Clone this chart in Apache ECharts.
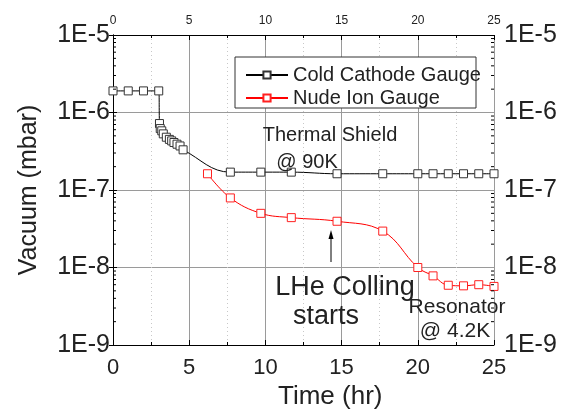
<!DOCTYPE html>
<html>
<head>
<meta charset="utf-8">
<script src="https://cdn.jsdelivr.net/npm/echarts@6/dist/echarts.min.js"></script>
<style>
  html, body { margin: 0; padding: 0; background: #fff; }
  #chart { width: 563px; height: 414px; }
</style>
</head>
<body>
<div id="chart"></div>
<script>
// Cold Cathode Gauge (time in hr, pressure in mbar)
const coldTime = [0, 1, 2, 3, 3.05, 3.1, 3.2, 3.3, 3.5, 3.7, 3.85, 4.0, 4.2, 4.4, 4.6,
                  7.7, 9.7, 11.7, 14.7, 17.7, 20, 21, 22, 23, 24, 25]
const coldVac = [1.9e-6, 1.9e-6, 1.9e-6, 1.9e-6, 7.2e-7, 6.2e-7, 5.8e-7, 5.3e-7, 4.8e-7, 4.5e-7,
                 4.3e-7, 4.1e-7, 3.9e-7, 3.7e-7, 3.3e-7,
                 1.7e-7, 1.7e-7, 1.7e-7, 1.62e-7, 1.62e-7, 1.62e-7, 1.62e-7, 1.62e-7, 1.62e-7, 1.62e-7, 1.62e-7]

// Nude Ion Gauge
const ionTime = [6.2, 7.7, 9.7, 11.7, 14.7, 17.7, 20, 21, 22, 23, 24, 25]
const ionVac = [1.62e-7, 7.9e-8, 5.0e-8, 4.4e-8, 3.95e-8, 2.95e-8, 1.0e-8, 7.8e-9, 5.9e-9, 5.8e-9, 6.0e-9, 5.7e-9]

const FONT = 'Liberation Sans, Arial, sans-serif'
const TXT = '#222'

// log minor ticks 2..9 for each decade
const minorVals = []
for (let e = -9; e < -5; e++) {
    for (let k = 2; k <= 9; k++) minorVals.push([0, k * Math.pow(10, e)])
}

const zip = (xs, ys) => xs.map((x, i) => [x, ys[i]])
const expLabel = v => '1E' + Math.round(Math.log10(v))

const chart = echarts.init(document.getElementById('chart'))

const xCommon = {
    type: 'value',
    min: 0,
    max: 25,
    interval: 5,
    axisLine: { lineStyle: { color: '#000', width: 1 } },
    axisTick: { inside: true, length: 5, lineStyle: { color: '#000' } },
    minorTick: { show: true, splitNumber: 2, length: 3, lineStyle: { color: '#000' } }
}

const yCommon = {
    type: 'log',
    logBase: 10,
    min: 1e-9,
    max: 1e-5,
    interval: 1,
    axisLine: { show: true, lineStyle: { color: '#000', width: 1 } },
    axisTick: { inside: false, length: 4, lineStyle: { color: '#000' } }
}

chart.setOption({
    animation: false,
    backgroundColor: '#fff',
    textStyle: { fontFamily: FONT },
    grid: { left: 113, right: 69, top: 35, bottom: 69 },
    xAxis: [
        Object.assign({}, xCommon, {
            position: 'bottom',
            axisLabel: { fontSize: 22, color: TXT, margin: 12, fontFamily: FONT },
            splitLine: { show: true, lineStyle: { color: '#9a9a9a', width: 1 } },
            minorSplitLine: { show: true, lineStyle: { color: '#c8c8c8', type: [1, 3], width: 1 } }
        }),
        Object.assign({}, xCommon, {
            position: 'top',
            axisLabel: { fontSize: 12, color: TXT, margin: 8, fontFamily: FONT },
            splitLine: { show: false }
        })
    ],
    yAxis: [
        Object.assign({}, yCommon, {
            position: 'left',
            axisLabel: { fontSize: 25, color: TXT, margin: 3, fontFamily: FONT, formatter: expLabel },
            splitLine: { show: true, lineStyle: { color: '#9a9a9a', width: 1 } }
        }),
        Object.assign({}, yCommon, {
            position: 'right',
            axisLabel: { fontSize: 25, color: TXT, margin: 10, fontFamily: FONT, formatter: expLabel },
            splitLine: { show: false }
        })
    ],
    legend: {
        orient: 'vertical',
        left: 240,
        top: 60,
        z: 10,
        itemWidth: 42,
        itemHeight: 9,
        itemGap: 3,
        data: ['Cold Cathode Gauge', 'Nude Ion Gauge'],
        textStyle: { fontSize: 20, color: TXT, fontFamily: FONT, padding: [0, 0, 0, 0] }
    },
    series: [
        {
            name: 'Cold Cathode Gauge',
            type: 'line',
            data: zip(coldTime, coldVac),
            smooth: 0.4,
            symbol: 'rect',
            symbolSize: 8,
            lineStyle: { color: '#000', width: 1 },
            itemStyle: { color: '#fff', borderColor: '#333', borderWidth: 1 },
            z: 3
        },
        {
            name: 'Nude Ion Gauge',
            type: 'line',
            data: zip(ionTime, ionVac),
            smooth: 0.4,
            symbol: 'rect',
            symbolSize: 8,
            lineStyle: { color: '#ff0000', width: 1 },
            itemStyle: { color: '#fff', borderColor: '#ff2020', borderWidth: 1 },
            z: 3
        },
        {
            // minor log ticks on left and right y axes
            type: 'custom',
            silent: true,
            clip: false,
            data: minorVals,
            encode: { x: 0, y: 1 },
            renderItem: (params, api) => {
                const l = api.coord([0, api.value(1)])
                const r = api.coord([25, api.value(1)])
                return {
                    type: 'group',
                    children: [
                        { type: 'line', shape: { x1: l[0], y1: l[1], x2: l[0] + 3, y2: l[1] }, style: { stroke: '#000', lineWidth: 1 } },
                        { type: 'line', shape: { x1: r[0], y1: r[1], x2: r[0] - 3, y2: r[1] }, style: { stroke: '#000', lineWidth: 1 } }
                    ]
                }
            },
            z: 4
        }
    ],
    graphic: [
        // legend frame
        { type: 'rect', shape: { x: 235, y: 57, width: 241, height: 51 },
          style: { fill: '#fff', stroke: '#333', lineWidth: 1 }, z: 5 },
        // axis titles
        { type: 'text', left: 278, top: 384,
          style: { text: 'Time (hr)', font: '26px ' + FONT, fill: TXT } },
        { type: 'text', x: 29, y: 190, rotation: Math.PI / 2, originX: 0, originY: 0,
          style: { text: 'Vacuum (mbar)', font: '25px ' + FONT, fill: TXT, align: 'center', verticalAlign: 'middle' } },
        // annotations
        { type: 'text', x: 330, y: 135, z: 6,
          style: { text: 'Thermal Shield', font: '20px ' + FONT, fill: TXT, align: 'center', verticalAlign: 'middle' } },
        { type: 'text', x: 307, y: 162, z: 6,
          style: { text: '@ 90K', font: '20px ' + FONT, fill: TXT, align: 'center', verticalAlign: 'middle' } },
        { type: 'text', x: 345, y: 288, z: 6,
          style: { text: 'LHe Colling', font: '27px ' + FONT, fill: TXT, align: 'center', verticalAlign: 'middle' } },
        { type: 'text', x: 326, y: 317, z: 6,
          style: { text: 'starts', font: '27px ' + FONT, fill: TXT, align: 'center', verticalAlign: 'middle' } },
        { type: 'text', x: 457, y: 307, z: 6,
          style: { text: 'Resonator', font: '21px ' + FONT, fill: TXT, align: 'center', verticalAlign: 'middle' } },
        { type: 'text', x: 455, y: 331, z: 6,
          style: { text: '@ 4.2K', font: '21px ' + FONT, fill: TXT, align: 'center', verticalAlign: 'middle' } },
        // arrow
        { type: 'line', shape: { x1: 331, y1: 262, x2: 331, y2: 237 }, style: { stroke: '#000', lineWidth: 1 }, z: 6 },
        { type: 'polygon', shape: { points: [[331, 230], [328.5, 239], [333.5, 239]] }, style: { fill: '#000' }, z: 6 }
    ]
})
</script>
</body>
</html>
